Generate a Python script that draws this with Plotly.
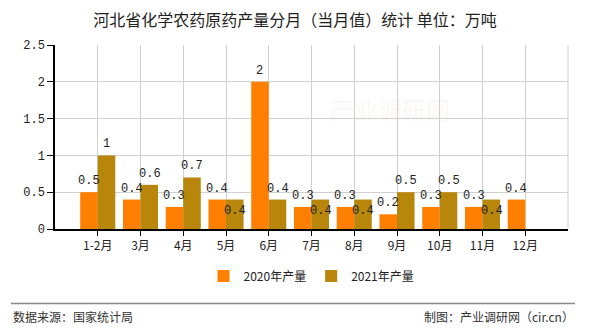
import plotly.graph_objects as go

months = ["1-2月", "3月", "4月", "5月", "6月", "7月", "8月", "9月", "10月", "11月", "12月"]
v2020 = [0.5, 0.4, 0.3, 0.4, 2, 0.3, 0.3, 0.2, 0.3, 0.3, 0.4]
v2021 = [1, 0.6, 0.7, 0.4, 0.4, 0.4, 0.4, 0.5, 0.5, 0.4, None]
# label placement for 2021 series: True = below bar top (collision avoidance)
inside2021 = [False, False, False, True, False, True, True, False, False, True, False]
ytick_vals = [0, 0.5, 1, 1.5, 2, 2.5]
ytick_text = ["0", "0.5", "1", "1.5", "2", "2.5"]

C2020 = "#FF8000"
C2021 = "#B8860B"
NUMFONT = dict(family="Liberation Mono, DejaVu Sans Mono, monospace", size=12, color="#222")

# plot area in pixels (for converting figure positions into paper coords)
PL, PR, PT, PB = 55, 568, 45, 229
PW, PH = PR - PL, PB - PT


def py(pix):
    return (PB - pix) / PH


def px(pix):
    return (pix - PL) / PW


fig = go.Figure()
fig.add_trace(go.Bar(x=months, y=v2020, name="2020年产量", marker_color=C2020, marker_line_width=0))
fig.add_trace(go.Bar(x=months, y=v2021, name="2021年产量", marker_color=C2021, marker_line_width=0))

ann = []
for m, v in zip(months, v2020):
    if v is None:
        continue
    ann.append(dict(x=m, y=v, xref="x", yref="y", text=f"{v:g}", showarrow=False,
                    xshift=-9, yanchor="bottom", yshift=2, font=NUMFONT))
for m, v, ins in zip(months, v2021, inside2021):
    if v is None:
        continue
    ann.append(dict(x=m, y=v, xref="x", yref="y", text=f"{v:g}", showarrow=False,
                    xshift=9, yanchor="top" if ins else "bottom",
                    yshift=-2 if ins else 2, font=NUMFONT))

# watermark
ann.append(dict(x=px(390), y=py(108), xref="paper", yref="paper", text="产业调研网", showarrow=False,
                font=dict(family="Noto Sans CJK SC", size=24, color="rgba(235,190,190,0.12)")))
# footer
ann.append(dict(x=px(11), y=py(316), xref="paper", yref="paper", text="数据来源：国家统计局",
                showarrow=False, xanchor="left", yanchor="middle",
                font=dict(family="Noto Sans CJK SC", size=12, color="#333")))
ann.append(dict(x=px(576), y=py(316), xref="paper", yref="paper", text="制图：产业调研网（cir.cn）",
                showarrow=False, xanchor="right", yanchor="middle",
                font=dict(family="Noto Sans CJK SC", size=12, color="#333")))

fig.update_layout(
    width=590, height=330,
    margin=dict(l=PL, r=590 - PR, t=PT, b=330 - PB),
    paper_bgcolor="white", plot_bgcolor="white",
    title=dict(text="河北省化学农药原药产量分月（当月值）统计 单位：万吨", x=0.5, xanchor="center",
               y=1 - 20 / 330, yanchor="middle",
               font=dict(family="Noto Sans CJK SC", size=16, color="#222")),
    barmode="group", bargap=0.18, bargroupgap=0,
    showlegend=True,
    legend=dict(orientation="h", x=0.5, xanchor="center", y=py(276), yanchor="middle",
                font=dict(family="Noto Sans CJK SC", size=12, color="#222"),
                traceorder="normal"),
    annotations=ann,
    shapes=[
        dict(type="line", xref="paper", yref="paper", x0=1, x1=1, y0=0, y1=1,
             line=dict(color="#d0d0d0", width=1), layer="below"),
        dict(type="line", xref="paper", yref="paper", x0=px(11), x1=px(575),
             y0=py(303.5), y1=py(303.5), line=dict(color="#888", width=1.5)),
    ],
)
fig.update_xaxes(type="category", range=[-1, len(months)], showgrid=True, gridcolor="#d0d0d0", gridwidth=1,
                 showline=True, linecolor="black", linewidth=1.5,
                 ticks="outside", ticklen=5, tickcolor="black",
                 tickfont=dict(family="Noto Sans CJK SC", size=12, color="#222"))
fig.update_yaxes(range=[0, 2.5], tickvals=ytick_vals, ticktext=ytick_text, showgrid=True,
                 gridcolor="#d0d0d0", gridwidth=1, showline=True, linecolor="black", linewidth=1.5,
                 ticks="outside", ticklen=6, tickcolor="black", zeroline=False,
                 tickfont=NUMFONT)

fig.write_html("out.html")
